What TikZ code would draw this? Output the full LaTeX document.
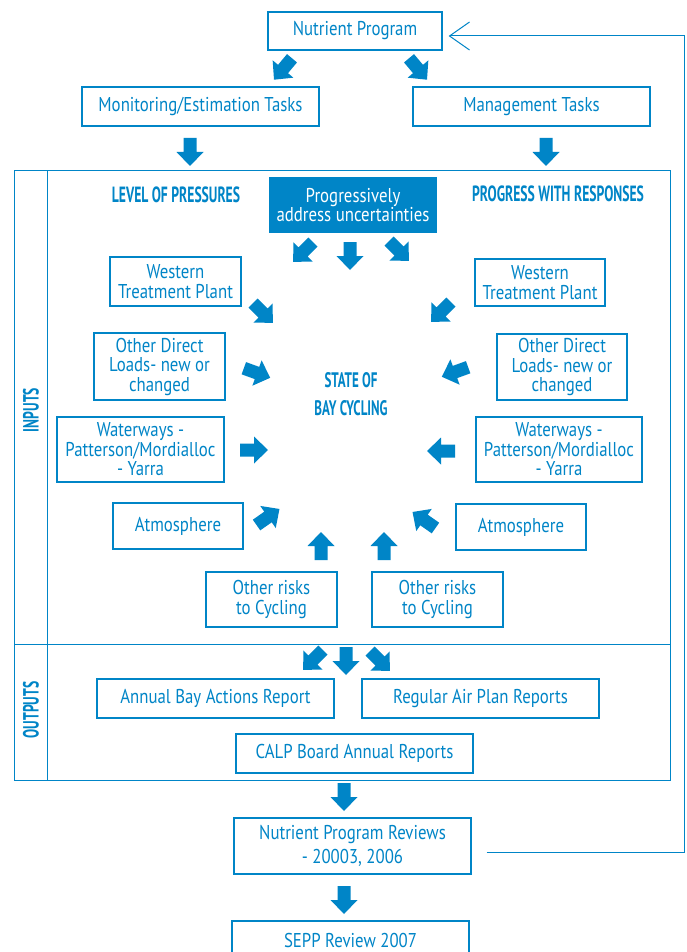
\documentclass[tikz,border=0pt]{standalone}
\usepackage{fontspec}
\setmainfont{PT Sans}[FakeStretch=0.84]
\newfontfamily\headfont{PT Sans}[FakeStretch=0.62]
\usetikzlibrary{arrows.meta,calc}
\definecolor{bblue}{RGB}{0,133,199}
\tikzset{
  box/.style={draw=bblue, line width=1.3pt, text=bblue, align=center, inner sep=0pt,
    font=\fontsize{20}{19.5}\selectfont},
  head/.style={text=bblue, font=\headfont\bfseries\fontsize{22}{26}\selectfont, inner sep=0pt, align=center},
  frameline/.style={draw=bblue, line width=1pt},
  fbline/.style={draw=bblue, line width=1pt},
  barrow/.pic={\fill[bblue] (-14,-6.5) -- (0,-6.5) -- (0,-13.5) -- (14,0) -- (0,13.5) -- (0,6.5) -- (-14,6.5) -- cycle;},
}
\begin{document}
\begin{tikzpicture}[x=1pt,y=-1pt]
\clip (0,0) rectangle (687,952);
\fill[white] (0,0) rectangle (687,952);

% top
\node[box, minimum width=174, minimum height=38] (np) at (355,31) {Nutrient Program};
\node[box, minimum width=237, minimum height=39] (mon) at (200.5,106.5) {Monitoring/Estimation Tasks};
\node[box, minimum width=237, minimum height=39] (man) at (531.5,106.5) {Management Tasks};

% frame
\draw[frameline] (14,171) rectangle (670,780);
\draw[frameline] (47,171) -- (47,780);
\draw[frameline] (14,644) -- (670,644);
\node[head, rotate=90] (inputs) at (31,410) {INPUTS};
\node[head, rotate=90] (outputs) at (31,710) {OUTPUTS};

\node[head] (lop) at (176,195) {LEVEL OF PRESSURES};
\node[head] (pwr) at (558,194) {PROGRESS WITH RESPONSES};
\node[box, fill=bblue, text=white, minimum width=166, minimum height=54] (prog) at (353,205) {Progressively\\address uncertainties};
\node[head, font=\headfont\bfseries\fontsize{21}{28}\selectfont] (state) at (351,394) {STATE OF\\BAY CYCLING};

% left column
\node[box, minimum width=131, minimum height=49] (lwtp) at (175.5,281.5) {Western\\Treatment Plant};
\node[box, minimum width=131, minimum height=67] (lodl) at (159.5,366.5) {Other Direct\\Loads- new or\\changed};
\node[box, minimum width=167, minimum height=65] (lww) at (140.5,449.5) {Waterways -\\Patterson/Mordialloc\\- Yarra};
\node[box, minimum width=130, minimum height=46] (latm) at (178,526) {Atmosphere};
\node[box, minimum width=131, minimum height=55] (lor) at (271.5,599.5) {Other risks\\to Cycling};
% right column
\node[box, minimum width=130, minimum height=47] (rwtp) at (540,282.5) {Western\\Treatment Plant};
\node[box, minimum width=130, minimum height=66] (rodl) at (562,367) {Other Direct\\Loads- new or\\changed};
\node[box, minimum width=166, minimum height=65] (rww) at (559,449.5) {Waterways -\\Patterson/Mordialloc\\- Yarra};
\node[box, minimum width=130, minimum height=46] (ratm) at (521,527) {Atmosphere};
\node[box, minimum width=131, minimum height=55] (ror) at (437.5,599.5) {Other risks\\to Cycling};

% outputs
\node[box, minimum width=237, minimum height=39] (abar) at (215.5,698.5) {Annual Bay Actions Report};
\node[box, minimum width=237, minimum height=39] (rapr) at (480.5,698.5) {Regular Air Plan Reports};
\node[box, minimum width=237, minimum height=39] (calp) at (354.5,753.5) {CALP Board Annual Reports};
\node[box, minimum width=237, minimum height=56] (npr) at (352.5,846) {Nutrient Program Reviews\\[4pt]- 20003, 2006};
\node[box, minimum width=237, minimum height=38] (sepp) at (350.5,940) {SEPP Review 2007};

% feedback
\coordinate (fbA) at ($(npr.east)+(15,6)$);
\coordinate (fbB) at ($(np.east)+(6,5)$);
\draw[fbline, -{Straight Barb[length=20pt,width=28pt]}] (fbA) -- (684,852) -- (684,36) -- (fbB);

% block arrows
\pic[rotate=-130] at (283,69) {barrow};
\pic[rotate=-50] at (418,69) {barrow};
\pic[rotate=-90] at (190,152) {barrow};
\pic[rotate=-90] at (546,152) {barrow};
\pic[rotate=-135] at (303,252) {barrow};
\pic[rotate=-90] at (350,256) {barrow};
\pic[rotate=-45] at (399,251) {barrow};
\pic[rotate=-45] at (263,313) {barrow};
\pic[rotate=-135] at (441,312) {barrow};
\pic[rotate=-20] at (257,373) {barrow};
\pic[rotate=-160] at (455,372) {barrow};
\pic[rotate=0] at (254,450) {barrow};
\pic[rotate=180] at (441,451) {barrow};
\pic[rotate=35] at (268,517) {barrow};
\pic[rotate=145] at (424,520) {barrow};
\pic[rotate=90] at (321,546) {barrow};
\pic[rotate=90] at (384,546) {barrow};
\pic[rotate=-135] at (313,660) {barrow};
\pic[rotate=-90] at (346,661) {barrow};
\pic[rotate=-45] at (380,661) {barrow};
\pic[rotate=-90] at (344,797) {barrow};
\pic[rotate=-90] at (344,900) {barrow};
\end{tikzpicture}
\end{document}
